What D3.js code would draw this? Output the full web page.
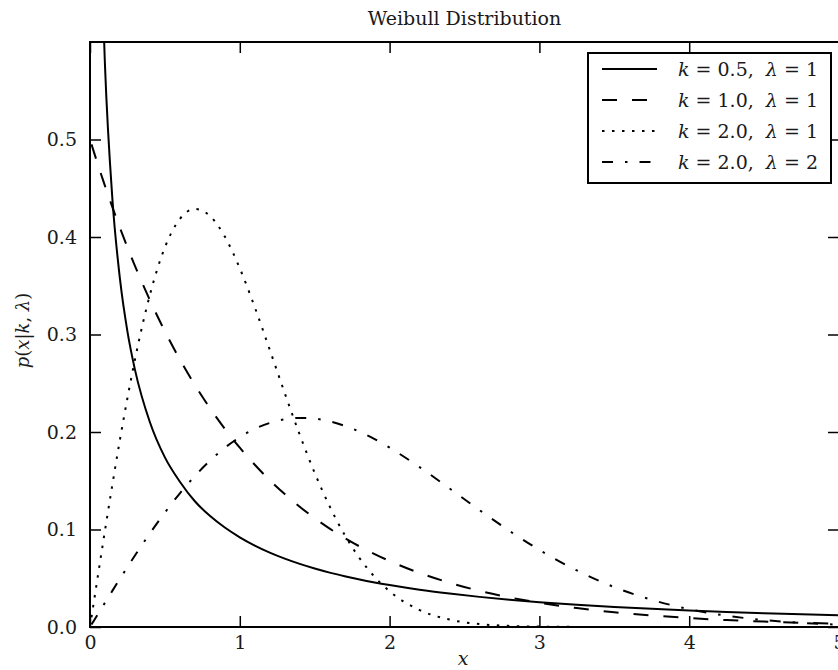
<!DOCTYPE html>
<html>
<head>
<meta charset="utf-8">
<script src="https://cdn.jsdelivr.net/npm/d3@7"></script>
<style>
  body { margin: 0; background: #fff; }
  text { font-family: "DejaVu Serif", "Liberation Serif", serif; fill: #1a1a1a; white-space: pre; }
</style>
</head>
<body>
<div id="chart"></div>
<script>
// sample positions along x
const xs = [0.01, 0.02, 0.04, 0.06, 0.08, 0.1, 0.15, 0.2, 0.25, 0.3,
            0.4, 0.5, 0.6, 0.7, 0.8, 0.9, 1.0, 1.1, 1.2, 1.3,
            1.4, 1.5, 1.6, 1.7, 1.8, 1.9, 2.0, 2.2, 2.4, 2.6,
            2.8, 3.0, 3.25, 3.5, 3.75, 4.0, 4.25, 4.5, 4.75, 5.0];

// curve values
const k05l1 = [2.262, 1.535, 1.023, 0.799, 0.666, 0.576, 0.438, 0.357, 0.303, 0.264,
               0.210, 0.174, 0.149, 0.129, 0.114, 0.102, 0.092, 0.0835, 0.0763, 0.0701,
               0.0647, 0.0600, 0.0558, 0.0521, 0.0487, 0.0457, 0.0430, 0.0382, 0.0343, 0.0309,
               0.0280, 0.0255, 0.0229, 0.0206, 0.0186, 0.0169, 0.0154, 0.0141, 0.0130, 0.0120];
const k10l1 = [0.4950, 0.4901, 0.4804, 0.4709, 0.4616, 0.4524, 0.4304, 0.4094, 0.3894, 0.3704,
               0.3352, 0.3033, 0.2744, 0.2483, 0.2247, 0.2033, 0.1839, 0.1664, 0.1506, 0.1363,
               0.1233, 0.1116, 0.1009, 0.0913, 0.0826, 0.0748, 0.0677, 0.0554, 0.0454, 0.0371,
               0.0304, 0.0249, 0.0194, 0.0151, 0.0118, 0.0092, 0.0071, 0.0056, 0.0043, 0.0034];
const k20l1 = [0.0100, 0.0200, 0.0399, 0.0598, 0.0795, 0.0990, 0.1467, 0.1922, 0.2349, 0.2742,
               0.3408, 0.3894, 0.4186, 0.4288, 0.4218, 0.4004, 0.3679, 0.3280, 0.2843, 0.2399,
               0.1972, 0.1581, 0.1237, 0.0945, 0.0705, 0.0514, 0.0366, 0.0174, 0.0076, 0.0030,
               0.0011, 0.0004, 0.0001, 0.0000, 0.0000, 0.0000, 0.0000, 0.0000, 0.0000, 0.0000];
const k20l2 = [0.0025, 0.0050, 0.0100, 0.0150, 0.0200, 0.0249, 0.0373, 0.0495, 0.0615, 0.0733,
               0.0961, 0.1174, 0.1371, 0.1548, 0.1704, 0.1838, 0.1947, 0.2032, 0.2093, 0.2130,
               0.2144, 0.2137, 0.2109, 0.2063, 0.2002, 0.1927, 0.1839, 0.1640, 0.1421, 0.1199,
               0.0986, 0.0791, 0.0580, 0.0409, 0.0279, 0.0183, 0.0116, 0.0071, 0.0042, 0.0024];

const kLabels = ['0.5', '1.0', '2.0', '2.0'];
const lamLabels = ['1', '1', '1', '2'];
const xTicks = [0, 1, 2, 3, 4, 5];
const yTicks = [0.0, 0.1, 0.2, 0.3, 0.4, 0.5];

const series = [k05l1, k10l1, k20l1, k20l2];
const dashes = ['none', '15,15', '2.5,7.5', '11,12,2.5,12'];

// dimensions
const margin = { top: 42, right: 0, bottom: 43, left: 90 },
    width = 749,
    height = 585;

const svg = d3.select('#chart')
  .append('svg')
    .attr('width', 838)
    .attr('height', 670)
  .append('g')
    .attr('transform', 'translate(' + margin.left + ',' + margin.top + ')');

const xScale = d3.scaleLinear().domain([0, 5]).range([0, width]);
const yScale = d3.scaleLinear().domain([0, 0.6]).range([height, 0]);

svg.append('clipPath').attr('id', 'clip')
  .append('rect').attr('width', width).attr('height', height);

// curves
const line = d3.line()
    .x(function(d, i) { return xScale(xs[i]); })
    .y(function(d) { return yScale(d); })
    .curve(d3.curveMonotoneX);

svg.append('g').attr('clip-path', 'url(#clip)')
  .selectAll('path')
  .data(series)
  .enter()
  .append('path')
    .attr('d', line)
    .attr('fill', 'none')
    .attr('stroke', '#000')
    .attr('stroke-width', 2)
    .attr('stroke-dasharray', function(d, i) { return dashes[i]; });

// axes, ticks point inward
const tickLen = 11;
svg.append('g')
    .attr('transform', 'translate(0,' + height + ')')
    .call(d3.axisBottom(xScale).tickValues(xTicks).tickSizeInner(-tickLen).tickSizeOuter(0).tickPadding(9).tickFormat(d3.format('d')));
svg.append('g')
    .call(d3.axisTop(xScale).tickValues(xTicks).tickSizeInner(-tickLen).tickSizeOuter(0).tickFormat(''));
svg.append('g')
    .call(d3.axisLeft(yScale).tickValues(yTicks).tickSizeInner(-tickLen).tickSizeOuter(0).tickPadding(13).tickFormat(d3.format('.1f')));
svg.append('g')
    .attr('transform', 'translate(' + width + ',0)')
    .call(d3.axisRight(yScale).tickValues(yTicks).tickSizeInner(-tickLen).tickSizeOuter(0).tickFormat(''));

svg.selectAll('.domain').remove();
svg.selectAll('.tick line').attr('stroke', '#000').attr('stroke-width', 1.5);
svg.selectAll('.tick text')
    .attr('font-family', null)
    .style('font-size', '19px')
    .attr('fill', '#1a1a1a');

svg.append('rect')
    .attr('width', width)
    .attr('height', height)
    .attr('fill', 'none')
    .attr('stroke', '#000')
    .attr('stroke-width', 2);

// title and axis labels
svg.append('text')
    .attr('x', width / 2)
    .attr('y', -17)
    .attr('text-anchor', 'middle')
    .style('font-size', '19px')
    .text('Weibull Distribution');

svg.append('text')
    .attr('x', 373)
    .attr('y', height + 38)
    .attr('text-anchor', 'middle')
    .style('font-size', '19px')
    .style('font-style', 'italic')
    .text('x');

const ylab = svg.append('text')
    .attr('transform', 'translate(-61,' + (height / 2 - 4) + ') rotate(-90)')
    .attr('text-anchor', 'middle')
    .style('font-size', '18px');
ylab.append('tspan').style('font-style', 'italic').text('p');
ylab.append('tspan').text('(');
ylab.append('tspan').style('font-style', 'italic').text('x');
ylab.append('tspan').text('|');
ylab.append('tspan').style('font-style', 'italic').text('k');
ylab.append('tspan').text(', ');
ylab.append('tspan').style('font-style', 'italic').text('λ');
ylab.append('tspan').text(')');

// legend
const legend = svg.append('g').attr('transform', 'translate(498,11)');
legend.append('rect')
    .attr('width', 243)
    .attr('height', 130)
    .attr('fill', '#fff')
    .attr('stroke', '#000')
    .attr('stroke-width', 2);

const rows = legend.selectAll('g.row')
  .data(series)
  .enter()
  .append('g')
    .attr('class', 'row')
    .attr('transform', function(d, i) { return 'translate(0,' + (16 + i * 31) + ')'; });

rows.append('line')
    .attr('x1', 14).attr('x2', 69)
    .attr('y1', 0).attr('y2', 0)
    .attr('stroke', '#000')
    .attr('stroke-width', 2)
    .attr('stroke-dasharray', function(d, i) { return dashes[i]; });

rows.each(function(d, i) {
  const t = d3.select(this).append('text')
      .attr('x', 90)
      .attr('y', 7)
      .style('font-size', '19px');
  t.append('tspan').style('font-style', 'italic').text('k');
  t.append('tspan').text(' = ' + kLabels[i] + ',  ');
  t.append('tspan').style('font-style', 'italic').text('λ');
  t.append('tspan').text(' = ' + lamLabels[i]);
});
</script>
</body>
</html>
